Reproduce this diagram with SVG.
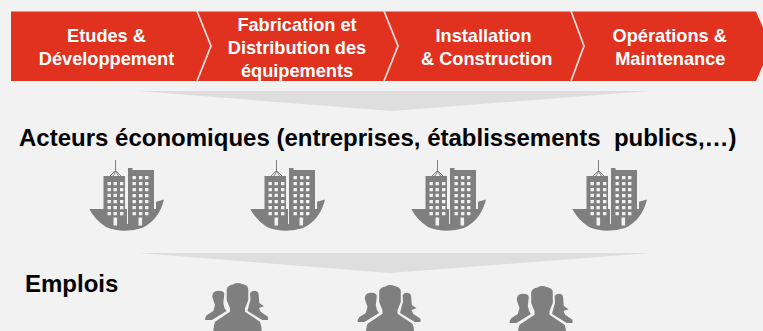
<svg xmlns="http://www.w3.org/2000/svg" xmlns:xlink="http://www.w3.org/1999/xlink" width="763" height="331" viewBox="0 0 763 331">
<style>
text{font-family:"Liberation Sans",Arial,sans-serif;font-weight:bold;white-space:pre}
.w{fill:#fff;font-size:18.2px;text-anchor:middle}
.k{fill:#000;font-size:24px}
.g{fill:#7f7f7f}
.t{fill:#dedede}
.h{stroke:#f2f2f2;stroke-width:3;paint-order:stroke}
</style>
<defs>
<g id="bld">
<path class="g" d="M9.300 49H76V41.700L84 39.500Q79 60 62 68Q43 74 26 67Q15 60 9.300 49Z"/>
<path class="g" d="M23.500 16H45V54H23.500ZM48 10V8H52.500V10H74V54H48Z"/>
<path d="M30 16L35.500 10.500L41 16M33 16L35.500 11.500L38.500 16M35.500 0V12" fill="none" stroke="#7f7f7f" stroke-width="1"/>
<path fill="#f2f2f2" d="M27.500 22h3.400v3.300h-3.400zM33.500 22h3.400v3.300h-3.400zM40 22h3.400v3.300h-3.400zM27.500 28h3.400v3.300h-3.400zM33.500 28h3.400v3.300h-3.400zM40 28h3.400v3.300h-3.400zM27.500 33.700h3.400v3.300h-3.400zM33.500 33.700h3.400v3.300h-3.400zM40 33.700h3.400v3.300h-3.400zM27.500 40h3.400v3.300h-3.400zM33.500 40h3.400v3.300h-3.400zM40 40h3.400v3.300h-3.400zM27.500 46h3.400v3.300h-3.400zM33.500 46h3.400v3.300h-3.400zM40 46h3.400v3.300h-3.400zM27.500 52h3.400v3.300h-3.400zM33.500 52h3.400v3.300h-3.400zM40 52h3.400v3.300h-3.400zM33.500 57.500h3.600v8h-3.600zM52.500 16h3.400v3.300h-3.400zM59 16h3.400v3.300h-3.400zM65 16h3.400v3.300h-3.400zM52.500 22h3.400v3.300h-3.400zM59 22h3.400v3.300h-3.400zM65 22h3.400v3.300h-3.400zM52.500 28h3.400v3.300h-3.400zM59 28h3.400v3.300h-3.400zM65 28h3.400v3.300h-3.400zM52.500 34h3.400v3.300h-3.400zM59 34h3.400v3.300h-3.400zM65 34h3.400v3.300h-3.400zM52.500 40h3.400v3.300h-3.400zM59 40h3.400v3.300h-3.400zM65 40h3.400v3.300h-3.400zM52.500 46h3.400v3.300h-3.400zM59 46h3.400v3.300h-3.400zM65 46h3.400v3.300h-3.400zM52.500 52h3.400v3.300h-3.400zM59 52h3.400v3.300h-3.400zM65 52h3.400v3.300h-3.400zM58.500 57.500h3.600v8h-3.600zM47 48h1v16h-1z"/>
</g>
<g id="ppl">
<path class="g" d="M-24.700 14Q-25 8-19 7.700Q-13 7.500-12.700 11L-13.700 20L-12.500 25L-10.500 28L-25 37H-31.700Q-32.500 35-30 32L-23.700 28L-22 22Z"/>
<path class="g" d="M13 10Q15 7.500 18 7.700Q21.500 8 21.700 12L22.300 20L27 23.300L22 25L23.700 28.700L31 33.700V37H25.300L10.500 28L12 22L13.500 17Z"/>
<path class="g h" d="M-10.300 6Q-9 2-4 1.500Q0-1 5 1Q11 2 11.300 6V17L8 25.300V28.700L23 38.700Q24.700 43 24.700 48H-23.700Q-23.500 43-22 38.700L-7 28.700V25.300L-10.300 17Z"/>
</g>
</defs>
<rect width="763" height="331" fill="#f2f2f2"/>
<g id="chevrons">
<path fill="#e0321f" d="M11 11.500H756L771 46.500L756 81H11Z"/>
<path fill="none" stroke="#f9dcd6" stroke-width="1.800" d="M197 11L211 46L197 81M384 11L398 46L384 81M571 11L584 46L571 81"/>
</g>
<g id="n1"><text class="w" x="106.500" y="41.500">Etudes &amp;</text><text class="w" x="106.500" y="65">Développement</text></g>
<g id="n2"><text class="w" x="297" y="31">Fabrication et</text><text class="w" x="297" y="54">Distribution des</text><text class="w" x="297" y="76.500">équipements</text></g>
<g id="n3"><text class="w" x="483.500" y="41.500">Installation</text><text class="w" x="486.700" y="65">&amp; Construction</text></g>
<g id="n4"><text class="w" x="669.700" y="41.500">Opérations &amp;</text><text class="w" x="670.300" y="65">Maintenance</text></g>
<g id="connectors">
<path class="t" d="M138 91H650L392 111Z"/>
<path class="t" d="M139 253H650L390 273Z"/>
</g>
<g id="acteurs"><text class="k" x="19" y="146">Acteurs économiques (entreprises, établissements  publics,…)</text></g>
<g id="b1"><use xlink:href="#bld" href="#bld" x="80" y="160"/></g>
<g id="b2"><use xlink:href="#bld" href="#bld" x="241" y="160"/></g>
<g id="b3"><use xlink:href="#bld" href="#bld" x="402" y="160"/></g>
<g id="b4"><use xlink:href="#bld" href="#bld" x="563" y="160"/></g>
<g id="emplois"><text class="k" x="25" y="292">Emplois</text></g>
<g id="p1"><use xlink:href="#ppl" href="#ppl" x="237" y="283"/></g>
<g id="p2"><use xlink:href="#ppl" href="#ppl" x="389.500" y="285"/></g>
<g id="p3"><use xlink:href="#ppl" href="#ppl" x="541.500" y="286"/></g>
</svg>
